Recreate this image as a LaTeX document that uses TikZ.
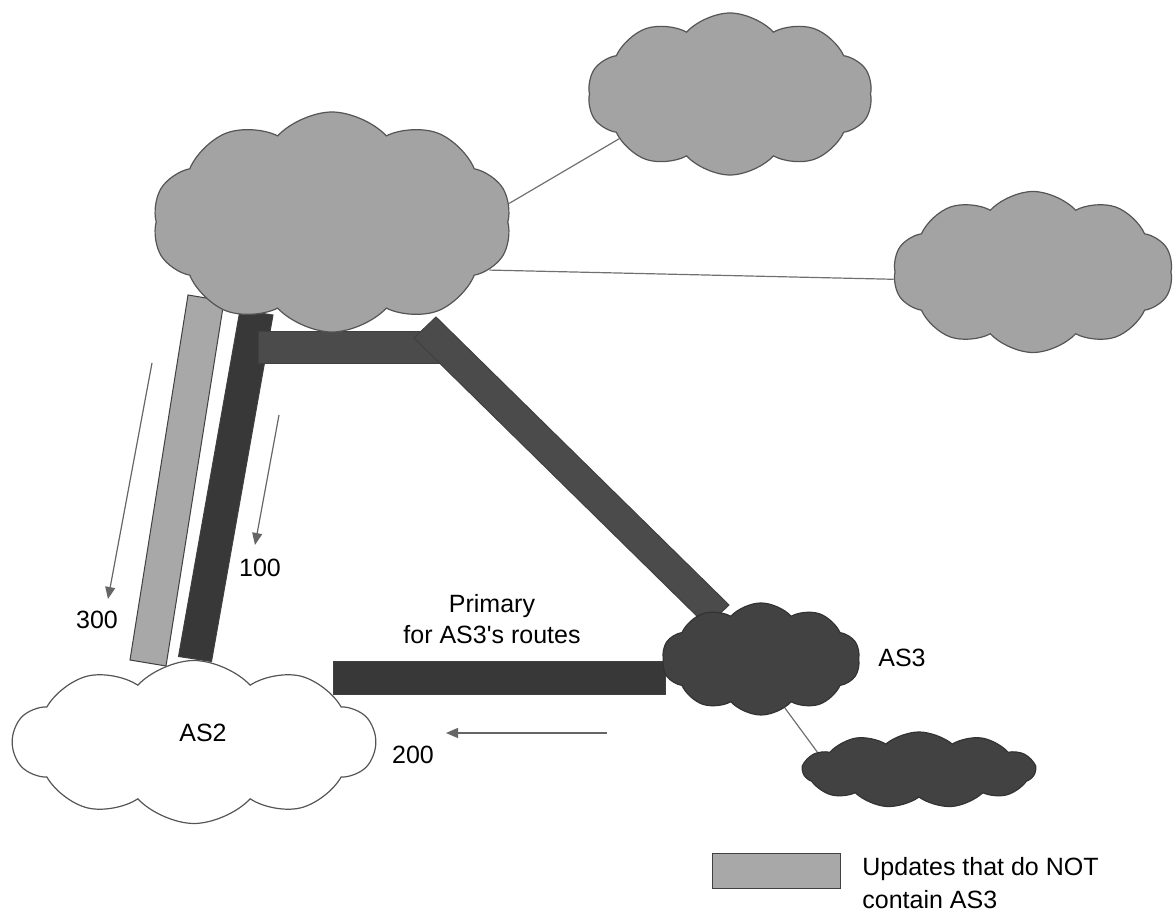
\documentclass[tikz,border=0pt]{standalone}
\usepackage{fontspec}
\setmainfont{Liberation Sans}
\usetikzlibrary{shapes.symbols, arrows.meta}
\definecolor{cloudgray}{HTML}{A3A3A3}
\definecolor{bargray}{HTML}{A8A8A8}
\definecolor{darkbar}{HTML}{383838}
\definecolor{midbar}{HTML}{4B4B4B}
\definecolor{darkcloud}{HTML}{424242}
\definecolor{edgegray}{HTML}{555555}
\definecolor{linegray}{HTML}{707070}
\begin{document}
\begin{tikzpicture}[x=0.5pt,y=-0.5pt,
  netcloud/.style={cloud, cloud puffs=10, cloud puff arc=95, cloud ignores aspect, inner sep=0pt, line width=0.6pt},
  lightcloud/.style={netcloud, fill=cloudgray, draw=edgegray},
  darkcl/.style={netcloud, fill=darkcloud, draw=black!80},
  opencloud/.style={netcloud, draw=edgegray},
  barbox/.style={draw=black!75, line width=0.5pt},
  link/.style={draw=linegray, line width=0.6pt},
  flow/.style={draw=black!60, line width=0.6pt, -{Triangle[length=6pt,width=5pt]}},
  lbl/.style={font=\fontsize{12.5}{15}\selectfont, inner sep=0pt}]
\useasboundingbox (0,0) rectangle (1174,913);
% bars
\filldraw[barbox, fill=bargray] (188,295) -- (224,301) -- (166,666) -- (130,660) -- cycle;
\filldraw[barbox, fill=darkbar] (240,310) -- (273,315) -- (211.5,661.5) -- (178.5,656.5) -- cycle;
\filldraw[barbox, fill=midbar] (258,332) rectangle (442,364);
\filldraw[barbox, fill=midbar] (414,338) -- (436,317) -- (729,605) -- (707,626) -- cycle;
\filldraw[barbox, fill=darkbar] (333,662) rectangle (665,695);
% clouds
\node[lightcloud, minimum width=179.5pt, minimum height=110pt] (cA) at (332,222) {};
\node[lightcloud, minimum width=142.5pt, minimum height=81pt] (cB) at (730,94) {};
\node[lightcloud, minimum width=140pt, minimum height=80.5pt] (cC) at (1033,272) {};
\node[darkcl, minimum width=99pt, minimum height=56pt] (as3) at (761,659) {};
\node[darkcl, cloud puffs=11, cloud puff arc=80, minimum width=116pt, minimum height=38pt] (cD) at (919,770) {};
\node[opencloud, minimum width=181pt, minimum height=81.5pt] (as2) at (194,742) {};
% links
\draw[link] (cA.6) -- (cB.202);
\draw[link] (cA.343) -- (cC.183);
\draw[link] (as3.296) -- (cD.170);
% flow arrows
\coordinate (f3s) at (152,363); \coordinate (f3e) at (108,599);
\coordinate (f1s) at (279,415); \coordinate (f1e) at (255,545);
\coordinate (f2s) at (607,733); \coordinate (f2e) at (446,733);
\draw[flow] (f3s) -- (f3e);
\draw[flow] (f1s) -- (f1e);
\draw[flow] (f2s) -- (f2e);
% labels
\node[lbl] (l300) at (97,620) {300};
\node[lbl] (l100) at (260,568) {100};
\node[lbl] (l200) at (413,755) {200};
\node[lbl] (lAS2) at (203,733) {AS2};
\node[lbl] (lAS3) at (902,658) {AS3};
\node[lbl, align=center, font=\fontsize{12.5}{15.8}\selectfont] (lprim) at (492,619) {Primary\\for AS3\textquotesingle s routes};
% legend
\filldraw[barbox, fill=bargray] (712,854) rectangle (840,889);
\node[lbl, align=left, anchor=north west, font=\fontsize{12.5}{16.5}\selectfont] (leg) at (862,857) {Updates that do NOT\\contain AS3};
\end{tikzpicture}
\end{document}
